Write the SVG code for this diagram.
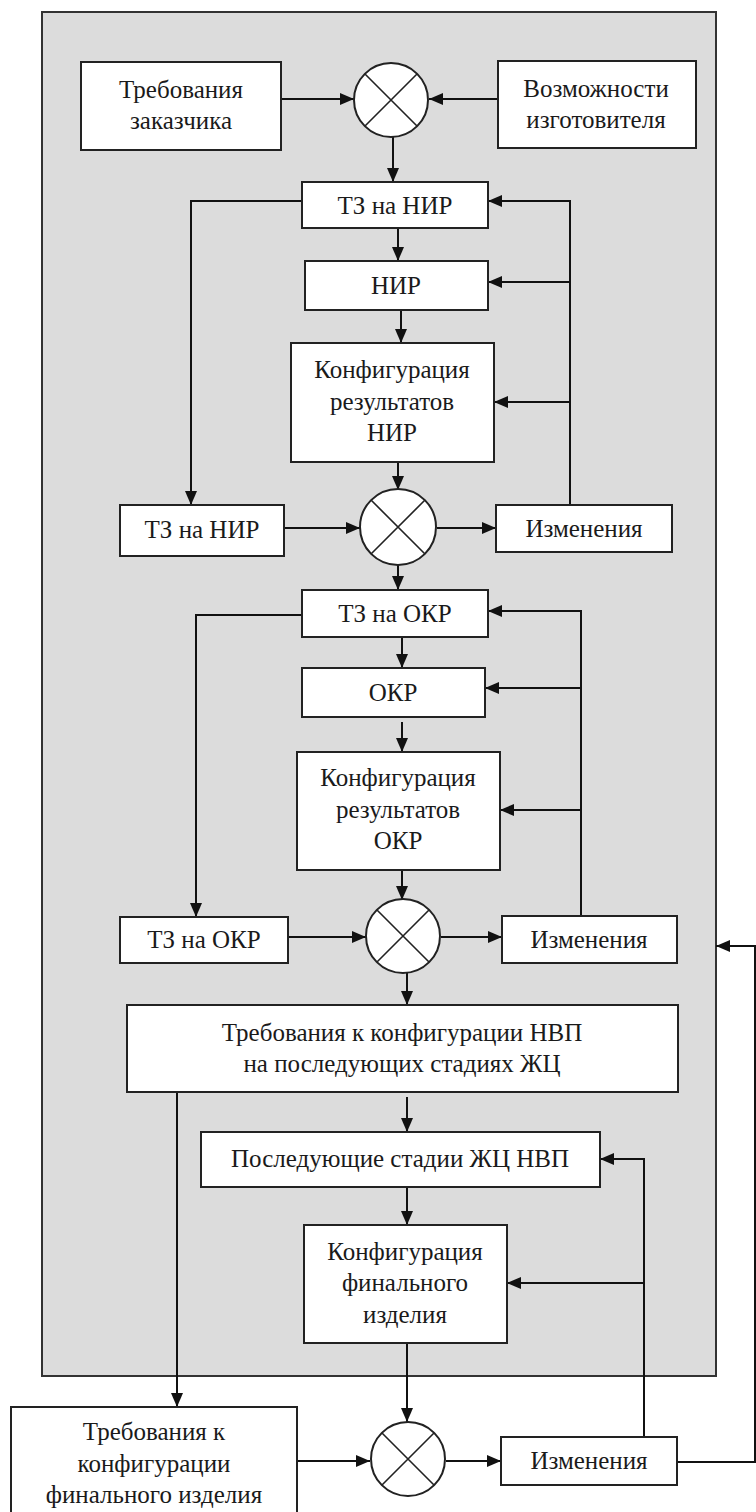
<svg xmlns="http://www.w3.org/2000/svg" width="756" height="1512" viewBox="0 0 756 1512" font-family="Liberation Serif, serif">
<style>
.box{fill:#fff;stroke:#222;stroke-width:2}
.sum{fill:#fff;stroke:#222;stroke-width:2}
.x{stroke:#222;stroke-width:1.6}
.t{font-family:"Liberation Serif",serif;font-size:25px;fill:#1a1a1a;text-anchor:middle}
.c{fill:none;stroke:#111;stroke-width:2}
</style>
<defs>
<marker id="a" markerWidth="14" markerHeight="12" refX="14" refY="6" orient="auto" markerUnits="userSpaceOnUse"><path d="M0,0 L14,6 L0,12 z" fill="#111"/></marker>
</defs>
<rect x="0" y="0" width="756" height="1512" fill="#fff"/>
<rect id="frame" x="42" y="12" width="674" height="1364" fill="#dcdcdc" stroke="#333" stroke-width="2"/>

<g id="connectors">
<path class="c" d="M281,99 H354" marker-end="url(#a)"/>
<path class="c" d="M498,99 H429" marker-end="url(#a)"/>
<path class="c" d="M393,137 V182" marker-end="url(#a)"/>
<path class="c" d="M398,228 V261" marker-end="url(#a)"/>
<path class="c" d="M401,310 V343" marker-end="url(#a)"/>
<path class="c" d="M398,462 V490" marker-end="url(#a)"/>
<path class="c" d="M302,201 H191 V505" marker-end="url(#a)"/>
<path class="c" d="M284,528 H360" marker-end="url(#a)"/>
<path class="c" d="M437,528 H496" marker-end="url(#a)"/>
<path class="c" d="M570,505 V201 H488" marker-end="url(#a)"/>
<path class="c" d="M570,282 H488" marker-end="url(#a)"/>
<path class="c" d="M570,402 H494" marker-end="url(#a)"/>
<path class="c" d="M398,565 V590" marker-end="url(#a)"/>
<path class="c" d="M402,637 V668" marker-end="url(#a)"/>
<path class="c" d="M402,722 V752" marker-end="url(#a)"/>
<path class="c" d="M402,870 V900" marker-end="url(#a)"/>
<path class="c" d="M302,615 H196 V917" marker-end="url(#a)"/>
<path class="c" d="M288,937 H366" marker-end="url(#a)"/>
<path class="c" d="M441,937 H502" marker-end="url(#a)"/>
<path class="c" d="M581,916 V611 H488" marker-end="url(#a)"/>
<path class="c" d="M581,688 H485" marker-end="url(#a)"/>
<path class="c" d="M581,810 H500" marker-end="url(#a)"/>
<path class="c" d="M407,972 V1005" marker-end="url(#a)"/>
<path class="c" d="M407,1097 V1132" marker-end="url(#a)"/>
<path class="c" d="M407,1187 V1225" marker-end="url(#a)"/>
<path class="c" d="M177,1092 V1407" marker-end="url(#a)"/>
<path class="c" d="M407,1343 V1422" marker-end="url(#a)"/>
<path class="c" d="M297,1461 H370" marker-end="url(#a)"/>
<path class="c" d="M446,1461 H501" marker-end="url(#a)"/>
<path class="c" d="M644,1437 V1159 H600" marker-end="url(#a)"/>
<path class="c" d="M644,1283 H507" marker-end="url(#a)"/>
<path class="c" d="M677,1462 H755 V946"/>
<path class="c" d="M756,946 H716" marker-end="url(#a)"/>
</g>

<g id="n-req-customer"><rect class="box" x="81" y="62" width="200" height="88"/><text class="t" x="181" y="98">Требования</text><text class="t" x="181" y="129">заказчика</text></g>
<g id="n-sum1"><circle class="sum" cx="391" cy="100" r="37"/><path class="x" d="M365,74 L417,126 M417,74 L365,126"/></g>
<g id="n-capabilities"><rect class="box" x="498" y="61" width="198" height="87"/><text class="t" x="596" y="97">Возможности</text><text class="t" x="596" y="128">изготовителя</text></g>

<g id="n-tz-nir"><rect class="box" x="302" y="182" width="186" height="46"/><text class="t" x="395" y="214">ТЗ на НИР</text></g>
<g id="n-nir"><rect class="box" x="305" y="261" width="183" height="49"/><text class="t" x="396" y="294">НИР</text></g>
<g id="n-conf-nir"><rect class="box" x="291" y="343" width="203" height="119"/><text class="t" x="392" y="378">Конфигурация</text><text class="t" x="392" y="410">результатов</text><text class="t" x="392" y="441">НИР</text></g>
<g id="n-tz-nir2"><rect class="box" x="120" y="505" width="164" height="51"/><text class="t" x="202" y="538">ТЗ на НИР</text></g>
<g id="n-sum2"><circle class="sum" cx="398" cy="527" r="38"/><path class="x" d="M371,500 L425,554 M425,500 L371,554"/></g>
<g id="n-chg1"><rect class="box" x="496" y="505" width="176" height="47"/><text class="t" x="584" y="537">Изменения</text></g>

<g id="n-tz-okr"><rect class="box" x="302" y="590" width="186" height="47"/><text class="t" x="395" y="622">ТЗ на ОКР</text></g>
<g id="n-okr"><rect class="box" x="302" y="668" width="183" height="49"/><text class="t" x="393" y="701">ОКР</text></g>
<g id="n-conf-okr"><rect class="box" x="297" y="752" width="203" height="118"/><text class="t" x="398" y="786">Конфигурация</text><text class="t" x="398" y="818">результатов</text><text class="t" x="398" y="849">ОКР</text></g>
<g id="n-tz-okr2"><rect class="box" x="120" y="917" width="168" height="46"/><text class="t" x="204" y="948">ТЗ на ОКР</text></g>
<g id="n-sum3"><circle class="sum" cx="403" cy="936" r="37"/><path class="x" d="M377,910 L429,962 M429,910 L377,962"/></g>
<g id="n-chg2"><rect class="box" x="502" y="916" width="175" height="47"/><text class="t" x="589" y="948">Изменения</text></g>

<g id="n-req-nvp"><rect class="box" x="127" y="1005" width="551" height="87"/><text class="t" x="402" y="1041">Требования к конфигурации НВП</text><text class="t" x="402" y="1072">на последующих стадиях ЖЦ</text></g>
<g id="n-next"><rect class="box" x="201" y="1132" width="399" height="55"/><text class="t" x="400" y="1167">Последующие стадии ЖЦ НВП</text></g>
<g id="n-conf-final"><rect class="box" x="304" y="1225" width="203" height="118"/><text class="t" x="405" y="1260">Конфигурация</text><text class="t" x="405" y="1291">финального</text><text class="t" x="405" y="1323">изделия</text></g>
<g id="n-req-final"><rect class="box" x="11" y="1407" width="286" height="120"/><text class="t" x="154" y="1440">Требования к</text><text class="t" x="154" y="1472">конфигурации</text><text class="t" x="154" y="1503">финального изделия</text></g>
<g id="n-sum4"><circle class="sum" cx="408" cy="1459" r="37"/><path class="x" d="M382,1433 L434,1485 M434,1433 L382,1485"/></g>
<g id="n-chg3"><rect class="box" x="501" y="1437" width="176" height="48"/><text class="t" x="589" y="1469">Изменения</text></g>
</svg>
